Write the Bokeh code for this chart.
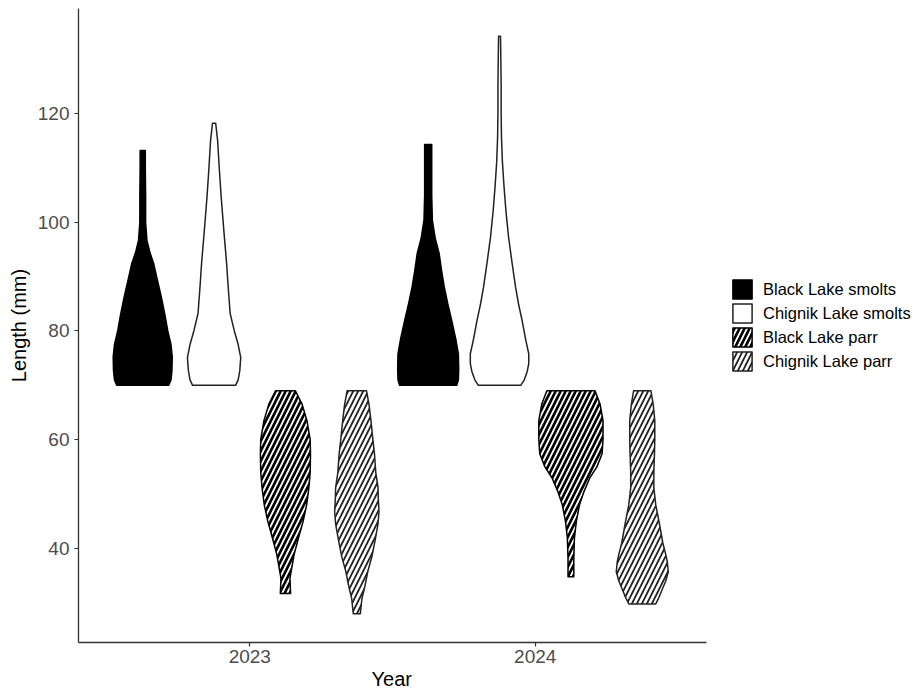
from bokeh.plotting import figure
from bokeh.models import Range1d, FixedTicker, Legend, LegendItem, Title
from bokeh.embed import file_html
from bokeh.resources import INLINE
import numpy as np

# ---------------- data ----------------
years = ["2023", "2024"]
groups = ["Black Lake smolts", "Chignik Lake smolts", "Black Lake parr", "Chignik Lake parr"]
x_title = "Year"
y_title = "Length (mm)"

# violin outlines: length levels (mm) and relative density (max = 1)
bl_smolt_2023_y = [70, 71, 72.7, 75.2, 77.5, 80, 83, 86.2, 89, 92.4, 94.5, 96.7, 100, 105, 110, 113.2]
bl_smolt_2023_d = [.81, .88, .91, .92, .88, .78, .69, .58, .47, .34, .22, .13, .09, .09, .08, .08]

cl_smolt_2023_y = [70, 71, 72.7, 75.1, 77.5, 80, 83.2, 88, 92.4, 98, 104.7, 110, 115, 118.2]
cl_smolt_2023_d = [.67, .75, .80, .83, .75, .63, .50, .44, .39, .31, .22, .16, .11, .05]

bl_parr_2023_y = [31.7, 34.5, 38.9, 42, 45, 48, 51.2, 54, 57.4, 60, 63.5, 66.5, 69]
bl_parr_2023_d = [.16, .14, .27, .41, .55, .66, .73, .77, .78, .77, .67, .52, .31]

cl_parr_2023_y = [28, 30.8, 33, 35.7, 38.5, 41.8, 44.5, 46.8, 49, 51.2, 54, 57.4, 60, 63.5, 66.5, 69]
cl_parr_2023_d = [.11, .16, .25, .34, .47, .58, .66, .69, .67, .66, .59, .55, .50, .44, .38, .30]

bl_smolt_2024_y = [70, 71, 73, 75.8, 78.5, 82, 85, 88.1, 91, 94.3, 97, 100.4, 105, 110, 114.3]
bl_smolt_2024_d = [.89, .94, .95, .94, .86, .73, .61, .50, .42, .34, .22, .13, .11, .11, .11]

cl_smolt_2024_y = [70, 71, 72.5, 74, 75.8, 78.5, 82, 85, 88, 92.5, 97.3, 102, 106.5, 111, 115.7, 120, 125, 130, 134.2]
cl_smolt_2024_d = [.66, .77, .86, .91, .91, .81, .70, .59, .50, .39, .28, .20, .14, .09, .06, .05, .05, .04, .03]

bl_parr_2024_y = [34.8, 38, 41.9, 45, 48.1, 50.5, 53, 55, 57.4, 60, 63.5, 66.5, 69]
bl_parr_2024_d = [.09, .09, .11, .17, .27, .41, .59, .81, .97, 1.0, 1.0, .91, .75]

cl_parr_2024_y = [29.8, 31, 32.6, 34, 35.7, 37.5, 38.9, 41, 45, 48, 51.2, 54, 57.4, 60, 63.5, 66.5, 69]
cl_parr_2024_d = [.42, .52, .63, .73, .81, .78, .73, .64, .52, .42, .36, .36, .38, .39, .39, .34, .27]

y_ticks = [40, 60, 80, 100, 120]

violins = [
    # (year index, group index, y, density)
    (0, 0, bl_smolt_2023_y, bl_smolt_2023_d),
    (0, 1, cl_smolt_2023_y, cl_smolt_2023_d),
    (0, 2, bl_parr_2023_y, bl_parr_2023_d),
    (0, 3, cl_parr_2023_y, cl_parr_2023_d),
    (1, 0, bl_smolt_2024_y, bl_smolt_2024_d),
    (1, 1, cl_smolt_2024_y, cl_smolt_2024_d),
    (1, 2, bl_parr_2024_y, bl_parr_2024_d),
    (1, 3, cl_parr_2024_y, cl_parr_2024_d),
]

# ---------------- layout / styling ----------------
FONT = "Liberation Sans"
W, H = 917, 692
LEFT, TOP, BOTTOM = 78, 8, 50
AXIS_PX = 628                      # width of the drawn x axis (panel area)
X0, X1 = 0.4, 2.6                  # discrete-axis expansion around the two years
frame_w = W - LEFT
x_end = X0 + (X1 - X0) * frame_w / AXIS_PX

DODGE = 1.0
VW = 0.9
half_max = DODGE / len(groups) * VW / 2

styles = [
    dict(fill_color="black", line_color="black", hatch_pattern=None),
    dict(fill_color="white", line_color="#222222", hatch_pattern=None),
    dict(fill_color="black", line_color="black", hatch_pattern="/", hatch_color="white"),
    dict(fill_color="white", line_color="#222222", hatch_pattern="/", hatch_color="#222222"),
]

p = figure(width=W, height=H, output_backend="svg", toolbar_location=None,
           x_range=Range1d(X0, x_end), y_range=Range1d(22.7, 139.3),
           min_border_left=LEFT, min_border_right=0, min_border_top=TOP, min_border_bottom=BOTTOM)
p.outline_line_color = None
p.xgrid.visible = False
p.ygrid.visible = False
p.background_fill_color = "white"
p.border_fill_color = "white"

renderers = {}
for yi, gi, ys, ds in violins:
    center = (yi + 1) + (gi - (len(groups) - 1) / 2) * DODGE / len(groups)
    ys = np.asarray(ys, dtype=float)
    ds = np.asarray(ds, dtype=float)
    xs = np.concatenate([center + ds * half_max, (center - ds * half_max)[::-1]])
    yy = np.concatenate([ys, ys[::-1]])
    st = dict(styles[gi])
    hp = st.pop("hatch_pattern")
    kw = dict(fill_color=st["fill_color"], line_color=st["line_color"], line_width=1.5,
              line_join="round")
    if hp:
        kw.update(hatch_pattern=hp, hatch_color=st["hatch_color"], hatch_scale=10, hatch_weight=1.8)
    r = p.patch(xs, yy, **kw)
    renderers.setdefault(gi, r)

# axes
for ax in (p.xaxis[0], p.yaxis[0]):
    ax.axis_line_color = "#333333"
    ax.axis_line_width = 1.3
    ax.major_tick_line_color = "#333333"
    ax.major_tick_line_width = 1.2
    ax.major_tick_out = 4
    ax.major_tick_in = 0
    ax.minor_tick_line_color = None
    ax.major_label_text_font = FONT
    ax.major_label_text_font_size = "19px"
    ax.major_label_text_color = "#4D4D4D"
    ax.axis_label_text_font = FONT
    ax.axis_label_text_font_size = "20px"
    ax.axis_label_text_font_style = "normal"
    ax.axis_label_text_color = "black"

p.xaxis.ticker = FixedTicker(ticks=[1, 2])
p.xaxis.major_label_overrides = {1: years[0], 2: years[1]}
p.xaxis.bounds = (X0, X1)
p.xaxis.major_label_standoff = 3
p.yaxis.ticker = FixedTicker(ticks=y_ticks)
p.yaxis.axis_label = y_title
p.yaxis.major_label_standoff = 5
p.yaxis.axis_label_standoff = 5

# x title centred under the drawn axis (not the whole frame)
title_w = 42
xt = Title(text=x_title, align="left", offset=AXIS_PX / 2 - title_w / 2,
           text_font=FONT, text_font_size="20px", text_font_style="normal",
           text_color="black", standoff=0)
p.add_layout(xt, "below")

legend = Legend(items=[LegendItem(label=g, renderers=[renderers[i]]) for i, g in enumerate(groups)],
                location=(AXIS_PX + 24, 269), orientation="vertical")
legend.padding = 0
legend.margin = 0
legend.spacing = 0
legend.border_line_color = None
legend.background_fill_alpha = 0
legend.glyph_width = 24
legend.glyph_height = 24
legend.label_height = 24
legend.label_standoff = 9
legend.label_text_font = FONT
legend.label_text_font_size = "16.5px"
legend.label_text_color = "black"
legend.label_text_baseline = "middle"
p.add_layout(legend, "center")

open("out.html", "w").write(file_html(p, INLINE))
